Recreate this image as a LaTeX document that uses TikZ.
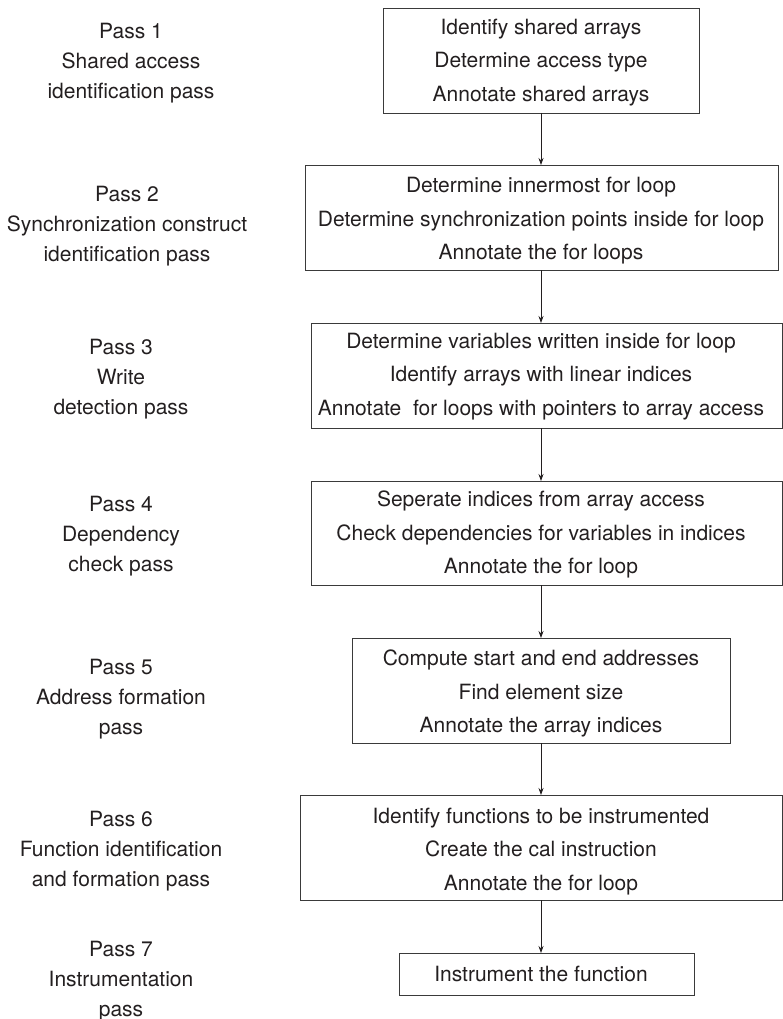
\documentclass[tikz,border=0pt]{standalone}
\usepackage{fontspec}
\setmainfont{TeX Gyre Heros}
\usetikzlibrary{arrows.meta}
\definecolor{ink}{HTML}{231F20}
\definecolor{edge}{HTML}{3A3A3A}
\begin{document}
\begin{tikzpicture}[x=1pt,y=-1pt,
  box/.style={draw=edge, line width=0.9pt, rectangle, inner sep=0pt, outer sep=0pt},
  boxtext/.style={inner sep=0pt, align=center, text=ink, font=\fontsize{21}{33.5}\selectfont},
  passlabel/.style={inner sep=0pt, align=center, text=ink, font=\fontsize{21}{30}\selectfont},
  flow/.style={draw=ink, line width=0.8pt, -{Stealth[length=7pt,width=5pt]}}]
\useasboundingbox (0,0) rectangle (783,1019);
\coordinate (ax) at (541,0);

% boxes
\node[box, minimum width=316, minimum height=105] (b1) at (541,60.5) {};
\node[box, minimum width=473, minimum height=105] (b2) at (541.5,217.5) {};
\node[box, minimum width=471, minimum height=105] (b3) at (546.5,375.5) {};
\node[box, minimum width=471, minimum height=104] (b4) at (546.5,533) {};
\node[box, minimum width=378, minimum height=105] (b5) at (541,690.5) {};
\node[box, minimum width=482, minimum height=105] (b6) at (541,847.5) {};
\node[box, minimum width=295, minimum height=42] (b7) at (546.5,974) {};

% box texts
\node[boxtext] (t1) at (541,62.5) {Identify shared arrays\\Determine access type\\Annotate shared arrays};
\node[boxtext] (t2) at (541,221) {Determine innermost for loop\\Determine synchronization points inside for loop\\Annotate the for loops};
\node[boxtext] (t3) at (541,376.5) {Determine variables written inside for loop\\Identify arrays with linear indices\\Annotate\ \ for loops with pointers to array access};
\node[boxtext] (t4) at (541,534.5) {Seperate indices from array access\\Check dependencies for variables in indices\\Annotate the for loop};
\node[boxtext] (t5) at (541,693.5) {Compute start and end addresses\\Find element size\\Annotate the array indices};
\node[boxtext] (t6) at (541,851.5) {Identify functions to be instrumented\\Create the cal instruction\\Annotate the for loop};
\node[boxtext] (t7) at (541,974) {Instrument the function};

% pass labels
\node[passlabel] (l1) at (131,63) {Pass 1\\Shared access\\identification pass};
\node[passlabel] (l2) at (127,226) {Pass 2\\Synchronization construct\\identification pass};
\node[passlabel] (l3) at (121,379) {Pass 3\\Write\\detection pass};
\node[passlabel] (l4) at (121,536) {Pass 4\\Dependency\\check pass};
\node[passlabel] (l5) at (121,699) {Pass 5\\Address formation\\pass};
\node[passlabel] (l6) at (121,851) {Pass 6\\Function identification\\and formation pass};
\node[passlabel] (l7) at (121,981) {Pass 7\\Instrumentation\\pass};

% connectors
\draw[flow] (b1.south -| ax) -- (b2.north -| ax);
\draw[flow] (b2.south -| ax) -- (b3.north -| ax);
\draw[flow] (b3.south -| ax) -- (b4.north -| ax);
\draw[flow] (b4.south -| ax) -- (b5.north -| ax);
\draw[flow] (b5.south -| ax) -- (b6.north -| ax);
\draw[flow] (b6.south -| ax) -- (b7.north -| ax);
\end{tikzpicture}
\end{document}
